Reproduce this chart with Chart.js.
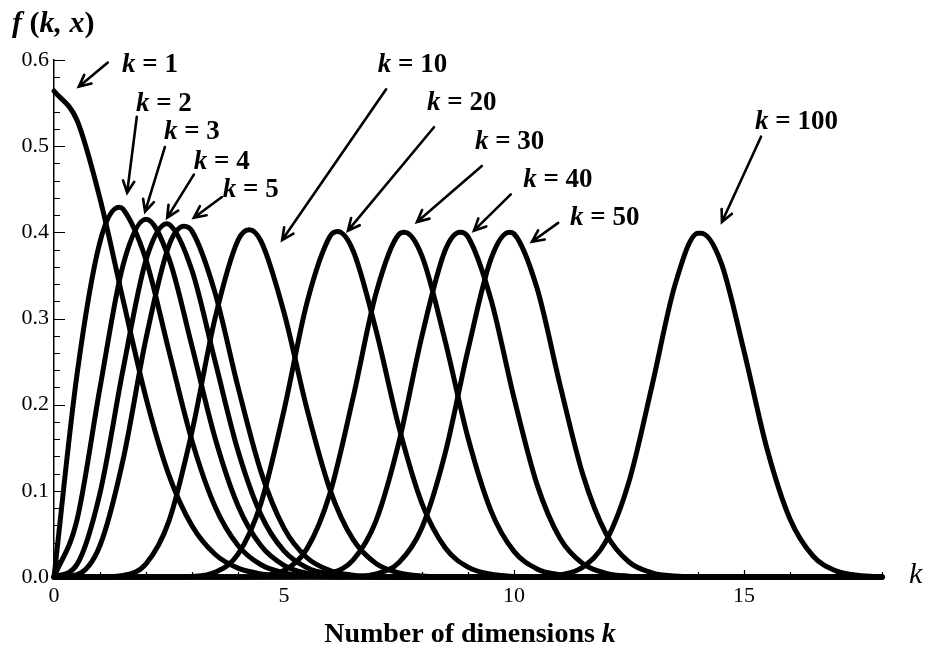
<!DOCTYPE html>
<html>
<head>
<meta charset="utf-8">
<script src="https://cdn.jsdelivr.net/npm/chart.js@4.4.0/dist/chart.umd.min.js"></script>
<style>
    html, body { margin: 0; background: #fff; }
    canvas { display: block; }
</style>
</head>
<body>
<canvas id="chart" width="932" height="658"></canvas>
<script>
// Values: f(k, x) on a grid of x, one array per k
const kValues = [1, 2, 3, 4, 5, 10, 20, 30, 40, 50, 100];
const xGrid = [0, 0.5, 1, 1.5, 2, 2.5, 3, 3.5, 4, 4.5, 5, 5.5, 6, 6.5, 7, 7.5, 8, 8.5, 9, 9.5,
    10, 10.5, 11, 11.5, 12, 12.5, 13, 13.5, 14, 14.5, 15, 15.5, 16, 16.5, 17, 17.5, 18];

const f1 = [0.564, 0.530, 0.439, 0.322, 0.208, 0.118, 0.0595, 0.0264, 0.0103, 0.0036, 0.0011, 0.0003, 0.0001,
    0, 0, 0, 0, 0, 0, 0, 0, 0, 0, 0, 0, 0, 0, 0, 0, 0, 0, 0, 0, 0, 0, 0, 0];
const f2 = [0, 0.235, 0.389, 0.427, 0.368, 0.262, 0.158, 0.0818, 0.0366, 0.0142, 0.0048, 0.0014, 0.0004, 0.0001,
    0, 0, 0, 0, 0, 0, 0, 0, 0, 0, 0, 0, 0, 0, 0, 0, 0, 0, 0, 0, 0, 0, 0];
const f3 = [0, 0.0662, 0.2197, 0.3617, 0.4151, 0.3695, 0.2676, 0.1616, 0.0827, 0.0362, 0.0136, 0.0044, 0.0013, 0.0003, 0.0001,
    0, 0, 0, 0, 0, 0, 0, 0, 0, 0, 0, 0, 0, 0, 0, 0, 0, 0, 0, 0, 0, 0];
const f4 = [0, 0.0147, 0.0974, 0.2404, 0.3679, 0.4094, 0.3557, 0.2507, 0.1465, 0.0721, 0.0302, 0.0108, 0.0033, 0.0009, 0.0002,
    0, 0, 0, 0, 0, 0, 0, 0, 0, 0, 0, 0, 0, 0, 0, 0, 0, 0, 0, 0, 0, 0];
const f5 = [0, 0.0028, 0.0366, 0.1356, 0.2768, 0.3849, 0.4014, 0.3300, 0.2205, 0.1220, 0.0567, 0.0223, 0.0075, 0.0022, 0.0005, 0.0001,
    0, 0, 0, 0, 0, 0, 0, 0, 0, 0, 0, 0, 0, 0, 0, 0, 0, 0, 0, 0, 0];
const f10 = [0, 0, 0.0001, 0.0018, 0.0153, 0.0651, 0.1688, 0.300, 0.3908, 0.3898, 0.307, 0.1948, 0.1012, 0.0436, 0.0157, 0.0048, 0.0012, 0.0003, 0.0001,
    0, 0, 0, 0, 0, 0, 0, 0, 0, 0, 0, 0, 0, 0, 0, 0, 0, 0];
const f20 = [0, 0, 0, 0, 0, 0, 0.0006, 0.0054, 0.0265, 0.0857, 0.1934, 0.3185, 0.3954, 0.379, 0.2865, 0.1736, 0.0852, 0.0343, 0.0114, 0.0032, 0.0007, 0.0001,
    0, 0, 0, 0, 0, 0, 0, 0, 0, 0, 0, 0, 0, 0, 0];
const f30 = [0, 0, 0, 0, 0, 0, 0, 0, 0.0001, 0.0012, 0.0077, 0.0329, 0.0973, 0.2077, 0.3292, 0.3978, 0.3724, 0.2747, 0.1616, 0.0768, 0.0297, 0.0094, 0.0025, 0.0005, 0.0001,
    0, 0, 0, 0, 0, 0, 0, 0, 0, 0, 0, 0];
const f40 = [0, 0, 0, 0, 0, 0, 0, 0, 0, 0, 0.0001, 0.0006, 0.0041, 0.0196, 0.0652, 0.1568, 0.2800, 0.3786, 0.3947, 0.3219, 0.2079, 0.1075, 0.0449, 0.0153, 0.0043, 0.0010, 0.0002,
    0, 0, 0, 0, 0, 0, 0, 0, 0, 0];
const f50 = [0, 0, 0, 0, 0, 0, 0, 0, 0, 0, 0, 0, 0, 0.0005, 0.0035, 0.0169, 0.0575, 0.1428, 0.2636, 0.3691, 0.3982, 0.3353, 0.2230, 0.1183, 0.0504, 0.0174, 0.0049, 0.0011, 0.0002,
    0, 0, 0, 0, 0, 0, 0, 0];
const f100 = [0, 0, 0, 0, 0, 0, 0, 0, 0, 0, 0, 0, 0, 0, 0, 0, 0, 0, 0, 0, 0, 0.0004, 0.0024, 0.0116, 0.0416, 0.1107, 0.2218, 0.3390, 0.3990, 0.3652, 0.2622, 0.1488, 0.0672, 0.0244, 0.0071, 0.0017, 0.0003];

// the top of each hump
const peakX = [0, 1.414, 2, 2.449, 2.828, 4.243, 6.164, 7.616, 8.832, 9.899, 14.071];
const peakY = [0.564, 0.429, 0.415, 0.410, 0.407, 0.403, 0.401, 0.400, 0.400, 0.400, 0.399];

const series = [f1, f2, f3, f4, f5, f10, f20, f30, f40, f50, f100];

// "k = .." annotations in data units: text anchor, arrow start, arrow tip
const labelAt = [[1.48, 0.594], [1.78, 0.549], [2.39, 0.516], [3.04, 0.482], [3.67, 0.449],
    [7.04, 0.594], [8.11, 0.550], [9.15, 0.505], [10.20, 0.461], [11.22, 0.417], [15.24, 0.528]];
const arrowFrom = [[1.17, 0.597], [1.80, 0.534], [2.41, 0.499], [3.04, 0.467], [3.65, 0.441],
    [7.22, 0.566], [8.26, 0.522], [9.30, 0.477], [9.93, 0.444], [10.96, 0.411], [15.37, 0.511]];
const arrowTo = [[0.54, 0.569], [1.59, 0.446], [1.98, 0.424], [2.46, 0.417], [3.04, 0.417],
    [4.96, 0.391], [6.39, 0.402], [7.89, 0.412], [9.13, 0.402], [10.39, 0.389], [14.52, 0.412]];

const SERIF = '"Liberation Serif", "Times New Roman", serif';

function buildPoints(i) {
    const pts = xGrid.map((x, j) => ({ x: x, y: series[i][j] }));
    if (!xGrid.includes(peakX[i])) pts.push({ x: peakX[i], y: peakY[i] });
    pts.sort((a, b) => a.x - b.x);
    return pts;
}

// Mixed-font text (italic k inside bold text)
function drawRuns(ctx, runs, x, y, align) {
    let total = 0;
    runs.forEach(r => { ctx.font = r[1]; total += ctx.measureText(r[0]).width; });
    let cx = align === 'center' ? x - total / 2 : x;
    runs.forEach(r => {
        ctx.font = r[1];
        ctx.fillText(r[0], cx, y);
        cx += ctx.measureText(r[0]).width;
    });
}

function drawArrow(ctx, x1, y1, x2, y2) {
    const a = Math.atan2(y2 - y1, x2 - x1);
    const head = 13, spread = 0.45;
    ctx.beginPath();
    ctx.moveTo(x1, y1);
    ctx.lineTo(x2, y2);
    ctx.moveTo(x2 - head * Math.cos(a - spread), y2 - head * Math.sin(a - spread));
    ctx.lineTo(x2, y2);
    ctx.lineTo(x2 - head * Math.cos(a + spread), y2 - head * Math.sin(a + spread));
    ctx.stroke();
}

// Inward tick marks (Mathematica style) and all the text around the plot
const decorations = {
    id: 'decorations',
    beforeDatasetsDraw(chart) {
        const { ctx, chartArea, scales } = chart;
        ctx.save();
        ctx.strokeStyle = '#000';
        ctx.lineWidth = 1.2;
        ctx.beginPath();
        for (let i = 0; i <= 30; i++) {
            const y = Math.round(scales.y.getPixelForValue(i * 0.02)) + 0.5;
            const len = i % 5 === 0 ? 11 : 6;
            ctx.moveTo(chartArea.left, y);
            ctx.lineTo(chartArea.left + len, y);
        }
        for (let i = 0; i <= 18; i++) {
            const x = Math.round(scales.x.getPixelForValue(i)) + 0.5;
            const len = i % 5 === 0 ? 7 : 5;
            ctx.moveTo(x, chartArea.bottom);
            ctx.lineTo(x, chartArea.bottom - len);
        }
        ctx.stroke();
        ctx.restore();
    },
    afterDraw(chart) {
        const { ctx, scales } = chart;
        ctx.save();
        ctx.fillStyle = '#000';
        ctx.textBaseline = 'alphabetic';

        drawRuns(ctx, [['f', 'italic bold 30px ' + SERIF], [' (', 'bold 30px ' + SERIF], ['k, x', 'italic bold 30px ' + SERIF], [')', 'bold 30px ' + SERIF]], 12, 32, 'left');
        drawRuns(ctx, [['k', 'italic 30px ' + SERIF]], 909, 583, 'left');
        drawRuns(ctx, [['Number of dimensions ', 'bold 28px ' + SERIF], ['k', 'italic bold 28px ' + SERIF]], 470, 642, 'center');

        ctx.textBaseline = 'middle';
        kValues.forEach((k, i) => {
            const lx = scales.x.getPixelForValue(labelAt[i][0]);
            const ly = scales.y.getPixelForValue(labelAt[i][1]);
            drawRuns(ctx, [['k', 'italic bold 27px ' + SERIF], [' = ' + k, 'bold 27px ' + SERIF]], lx, ly, 'left');
        });

        ctx.strokeStyle = '#000';
        ctx.lineWidth = 2.6;
        ctx.lineCap = 'round';
        kValues.forEach((k, i) => {
            drawArrow(ctx,
                scales.x.getPixelForValue(arrowFrom[i][0]), scales.y.getPixelForValue(arrowFrom[i][1]),
                scales.x.getPixelForValue(arrowTo[i][0]), scales.y.getPixelForValue(arrowTo[i][1]));
        });
        ctx.restore();
    }
};

const datasets = kValues.map((k, i) => ({
    label: 'k = ' + k,
    data: buildPoints(i),
    borderColor: '#000',
    borderWidth: 5,
    pointRadius: 0,
    fill: false,
    cubicInterpolationMode: 'monotone',
    borderJoinStyle: 'round',
    borderCapStyle: 'round',
    clip: 8
}));

new Chart(document.getElementById('chart'), {
    type: 'line',
    data: { datasets: datasets },
    options: {
        responsive: false,
        animation: false,
        layout: { padding: { top: 60, right: 50, left: 0, bottom: 0 } },
        plugins: { legend: { display: false }, tooltip: { enabled: false } },
        scales: {
            x: {
                type: 'linear',
                min: 0,
                max: 18,
                afterFit: s => { s.height = 81; },
                ticks: {
                    stepSize: 5,
                    includeBounds: false,
                    maxRotation: 0,
                    padding: 6,
                    color: '#000',
                    font: { family: SERIF, size: 22 }
                },
                grid: { drawOnChartArea: false, drawTicks: false },
                border: { color: '#000', width: 1.5 }
            },
            y: {
                min: 0,
                max: 0.6,
                afterFit: s => { s.width = 54; },
                ticks: {
                    stepSize: 0.1,
                    padding: 5,
                    color: '#000',
                    font: { family: SERIF, size: 22 },
                    callback: v => v.toFixed(1)
                },
                grid: { drawOnChartArea: false, drawTicks: false },
                border: { color: '#000', width: 1.5 }
            }
        }
    },
    plugins: [decorations]
});
</script>
</body>
</html>
